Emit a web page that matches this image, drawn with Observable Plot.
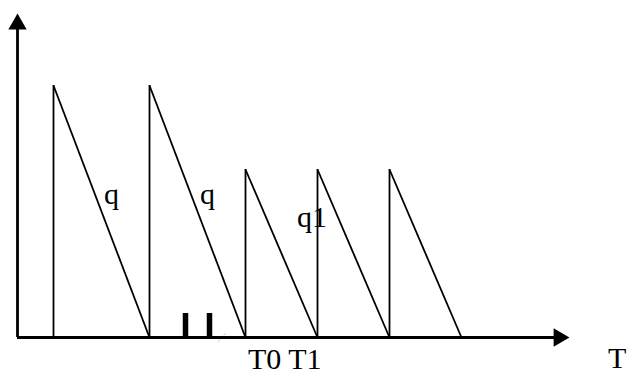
<!DOCTYPE html>
<html>
<head>
<meta charset="utf-8">
<script src="https://cdn.jsdelivr.net/npm/d3@7"></script>
<script src="https://cdn.jsdelivr.net/npm/@observablehq/plot@0.6"></script>
<style>
  html, body { margin: 0; padding: 0; background: #fff; }
  #chart svg { display: block; }
</style>
</head>
<body>
<div id="chart"></div>
<script>
// Sawtooth teeth: start time of each tooth and its peak height
const toothStart = [1.5, 5.5, 9.5, 12.5, 15.5];
const toothPeak  = [10.5, 10.5, 7, 7, 7];
const toothEnd   = [5.5, 9.5, 12.5, 15.5, 18.5];

// Small marker bars on the time axis
const markerT = [7, 8];
const markerH = [1, 1];

// Faint stray stroke near the axis
const strayX = [8.67, 8.33];
const strayY = [0.17, -0.21];

// Axis extents (arrow tips)
const axisXEnd = 23;
const axisYEnd = 13.5;

// Labels
const labelText = ["q", "q", "q1", "T0 T1", "T"];
const labelX    = [3.6, 7.6, 11.65, 9.6, 24.6];
const labelY    = [5.58, 5.58, 4.62, -1.33, -1.29];

const teeth = toothStart.map((t, i) => ({t, h: toothPeak[i], end: toothEnd[i]}));
const markers = markerT.map((t, i) => ({t, h: markerH[i]}));
const labels = labelText.map((s, i) => ({s, x: labelX[i], y: labelY[i]}));

const W = 629, H = 376;
const mL = 17, mB = 39;
const unit = 24;

const chart = Plot.plot({
  width: W,
  height: H,
  marginLeft: mL,
  marginRight: 0,
  marginTop: 0,
  marginBottom: mB,
  x: {domain: [0, (W - mL) / unit], axis: null},
  y: {domain: [0, (H - mB) / unit], axis: null},
  style: {background: "#fff", overflow: "visible"},
  marks: [
    // faint stray stroke
    Plot.link([0], {x1: () => strayX[0], y1: () => strayY[0], x2: () => strayX[1], y2: () => strayY[1],
      stroke: "#aaa", strokeWidth: 0.8, strokeDasharray: "2,1"}),
    // teeth
    Plot.ruleX(teeth, {x: "t", y1: 0, y2: "h", stroke: "black", strokeWidth: 1.8}),
    Plot.link(teeth, {x1: "t", y1: "h", x2: "end", y2: () => 0, stroke: "black", strokeWidth: 1.8}),
    // marker bars
    Plot.ruleX(markers, {x: "t", y1: 0, y2: "h", stroke: "black", strokeWidth: 5.5}),
    // axes
    Plot.ruleY([0], {x1: 0, x2: axisXEnd - 0.3, stroke: "black", strokeWidth: 2.8}),
    Plot.ruleX([0], {y1: 0, y2: axisYEnd - 0.3, stroke: "black", strokeWidth: 2.8}),
    // arrow heads
    Plot.dot([0], {x: () => 0, y: () => axisYEnd, symbol: "triangle", r: 6.8, fill: "black", stroke: null, dy: 10.6}),
    Plot.dot([0], {x: () => axisXEnd, y: () => 0, symbol: "triangle", r: 6.8, fill: "black", stroke: null, rotate: 90, dx: -10.6}),
    // labels
    Plot.text(labels, {x: "x", y: "y", text: "s", textAnchor: "start", lineAnchor: "bottom",
      fontFamily: "Liberation Serif", fontSize: 30, fill: "black"})
  ]
});

document.getElementById("chart").appendChild(chart);
</script>
</body>
</html>
